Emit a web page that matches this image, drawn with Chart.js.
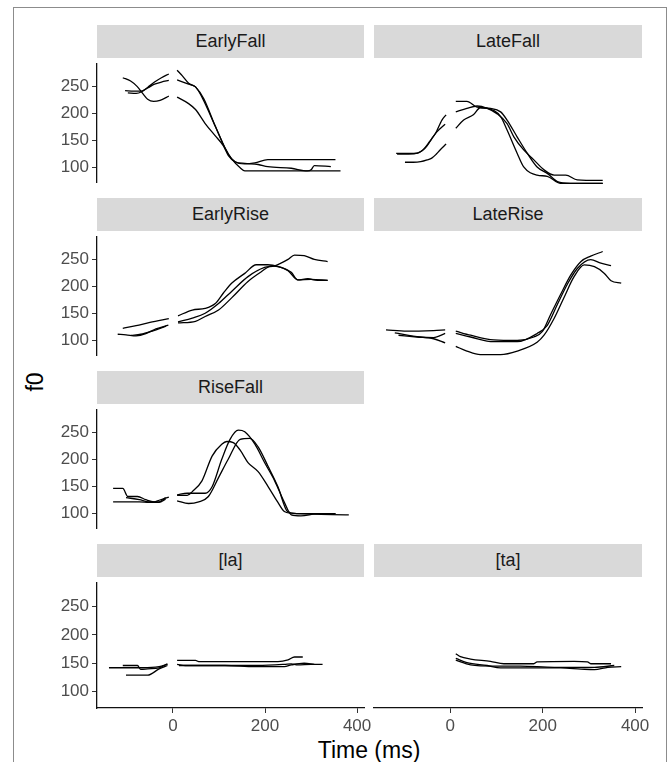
<!DOCTYPE html>
<html>
<head>
<meta charset="utf-8">
<script src="https://cdn.jsdelivr.net/npm/chart.js@4/dist/chart.umd.min.js"></script>
<style>
    body { margin: 0; background: #fff; }
    #fig { position: relative; width: 667px; height: 762px; overflow: hidden; font-family: 'Liberation Sans', Arial, sans-serif; }
    .frame { position: absolute; left: 13px; top: 7px; width: 652px; height: 800px; border: 1px solid #8c8c8c; }
    .strip { position: absolute; height: 33px; background: #d9d9d9; color: #1a1a1a; font-size: 18px; display: flex; align-items: center; justify-content: center; }
    .ytitle { position: absolute; left: 35px; top: 382px; font-size: 23px; transform: translate(-50%, -50%) rotate(-90deg); color: #000; }
    .xtitle { position: absolute; left: 369px; top: 750px; font-size: 23px; transform: translate(-50%, -50%); color: #000; white-space: nowrap; }
    canvas { position: absolute; }
</style>
</head>
<body>
<div id="fig">
    <div class="frame"></div>
    <div class="ytitle">f0</div>
    <div class="xtitle">Time (ms)</div>
</div>
<script>
// axes shared by every panel
const X_MIN = -165;
const X_MAX = 415;
const Y_MIN = 71;
const Y_MAX = 293;
const X_TICKS = [0, 200, 400];
const Y_TICKS = [100, 150, 200, 250];

// f0 contours: [time ms, f0 Hz], null = gap at word boundary
const earlyFall1 = [[-109, 266], [-92, 260], [-78, 250], [-65, 236], [-55, 226], [-42, 222], [-28, 224], [-9, 232], [0, null],
    [9, 230], [34, 218], [49, 207], [70, 181], [92, 158], [110, 139], [120, 122], [135, 110], [156, 107], [185, 105], [206, 101], [257, 98], [292, 93], [300, 95], [307, 103], [343, 101]];
const earlyFall2 = [[-104, 242], [-85, 241], [-70, 241], [-55, 247], [-40, 254], [-25, 258], [-9, 261], [0, null],
    [9, 262], [34, 254], [49, 249], [63, 230], [92, 176], [120, 124], [135, 110], [156, 106], [178, 108], [206, 114], [260, 114], [353, 114]];
const earlyFall3 = [[-98, 238], [-80, 237], [-68, 240], [-55, 248], [-40, 258], [-25, 266], [-9, 273], [0, null],
    [9, 280], [20, 270], [34, 256], [49, 249], [67, 227], [92, 176], [113, 136], [128, 115], [146, 99], [156, 93], [250, 93], [364, 93]];

const lateFall1 = [[-117, 130], [-95, 130], [-72, 130], [-60, 135], [-51, 142], [-40, 155], [-32, 164], [-18, 187], [-9, 196], [0, null],
    [12, 219], [36, 219], [58, 209], [80, 207], [109, 193], [123, 170], [145, 130], [159, 107], [188, 93], [210, 91], [239, 79], [330, 79]];
const lateFall2 = [[-115, 129], [-90, 129], [-70, 131], [-58, 137], [-45, 150], [-30, 166], [-11, 180], [0, null],
    [12, 201], [36, 207], [58, 211], [80, 207], [101, 198], [123, 181], [138, 158], [159, 136], [181, 119], [203, 102], [225, 93], [250, 93], [275, 85], [330, 84]];
const lateFall3 = [[-98, 115], [-80, 115], [-64, 116], [-50, 119], [-40, 122], [-30, 129], [-22, 136], [-9, 146], [0, null],
    [12, 173], [29, 187], [50, 196], [65, 208], [87, 207], [109, 201], [123, 187], [145, 158], [167, 130], [188, 107], [210, 96], [232, 82], [260, 79], [330, 79]];

const earlyRise1 = [[-109, 122], [-80, 127], [-50, 133], [-9, 140], [0, null],
    [11, 145], [42, 156], [70, 159], [92, 168], [110, 188], [128, 206], [156, 224], [181, 240], [206, 240], [228, 237], [250, 229], [271, 212], [300, 213], [336, 211]];
const earlyRise2 = [[-120, 111], [-102, 110], [-80, 108], [-59, 112], [-37, 121], [-10, 128], [0, null],
    [11, 134], [42, 141], [70, 150], [99, 168], [128, 191], [163, 218], [199, 235], [221, 238], [250, 250], [264, 258], [285, 257], [307, 250], [336, 246]];
const earlyRise3 = [[-91, 109], [-70, 111], [-45, 117], [-15, 126], [0, null],
    [11, 132], [49, 135], [70, 144], [99, 156], [128, 179], [163, 209], [192, 227], [214, 238], [235, 235], [257, 226], [271, 212], [293, 214], [314, 211], [336, 211]];

const lateRise1 = [[-139, 124], [-94, 122], [-36, 123], [-11, 124], [0, null],
    [12, 122], [44, 115], [94, 107], [145, 106], [181, 112], [199, 121], [217, 150], [239, 185], [261, 218], [283, 241], [304, 250], [330, 258]];
const lateRise2 = [[-120, 119], [-65, 112], [-36, 111], [-11, 118], [0, null],
    [12, 118], [44, 112], [94, 104], [145, 104], [188, 118], [210, 132], [232, 168], [254, 203], [275, 229], [304, 244], [326, 238], [348, 234]];
const lateRise3 = [[-112, 115], [-72, 112], [-36, 109], [-11, 102], [0, null],
    [12, 96], [36, 88], [65, 82], [109, 82], [145, 88], [188, 103], [203, 115], [225, 144], [246, 179], [268, 215], [290, 235], [312, 232], [333, 221], [348, 208], [370, 204]];

const riseFall1 = [[-130, 146], [-109, 146], [-98, 131], [-77, 131], [-59, 125], [-41, 121], [-30, 124], [-9, 130], [0, null],
    [9, 133], [31, 133], [42, 140], [63, 160], [85, 206], [106, 228], [117, 233], [131, 231], [146, 217], [163, 194], [185, 177], [207, 149], [228, 120], [242, 103], [257, 100], [285, 99], [353, 99]];
const riseFall2 = [[-130, 121], [-73, 121], [-52, 120], [-30, 120], [-16, 126], [0, null],
    [9, 134], [31, 137], [70, 137], [85, 149], [106, 200], [124, 237], [142, 254], [156, 251], [178, 228], [199, 194], [221, 160], [242, 120], [257, 97], [278, 95], [314, 99], [353, 99]];
const riseFall3 = [[-102, 129], [-73, 125], [-52, 121], [-30, 121], [-16, 129], [0, null],
    [9, 123], [34, 118], [56, 121], [77, 131], [99, 166], [120, 200], [146, 237], [167, 239], [185, 223], [206, 188], [228, 149], [249, 103], [271, 99], [382, 97]];

const la1 = [[-139, 142], [-66, 142], [-30, 144], [-12, 148], [0, null],
    [9, 155], [49, 155], [56, 153], [199, 153], [228, 153], [250, 156], [264, 161], [282, 161]];
const la2 = [[-109, 146], [-77, 146], [-70, 139], [-55, 140], [-30, 142], [-12, 149], [0, null],
    [9, 148], [27, 146], [185, 146], [242, 148], [257, 149], [271, 147], [300, 148], [325, 148]];
const la3 = [[-102, 129], [-55, 129], [-30, 140], [-12, 146], [0, null],
    [13, 146], [113, 146], [178, 144], [242, 144], [257, 147], [285, 150], [307, 148]];

const ta1 = [[12, 163], [22, 158], [44, 154], [87, 150], [116, 146], [181, 146], [188, 149], [268, 150], [297, 149], [304, 146], [348, 146]];
const ta2 = [[12, 155], [36, 148], [80, 143], [109, 139], [239, 139], [283, 137], [312, 136], [341, 140], [370, 141]];
const ta3 = [[12, 152], [44, 144], [94, 142], [152, 142], [225, 140], [312, 140], [355, 143]];

const PANEL_NAMES = ['EarlyFall', 'LateFall', 'EarlyRise', 'LateRise', 'RiseFall', '[la]', '[ta]'];
const PANEL_LINES = [
    [earlyFall1, earlyFall2, earlyFall3],
    [lateFall1, lateFall2, lateFall3],
    [earlyRise1, earlyRise2, earlyRise3],
    [lateRise1, lateRise2, lateRise3],
    [riseFall1, riseFall2, riseFall3],
    [la1, la2, la3],
    [ta1, ta2, ta3],
];
// [row, col] of each facet
const PANEL_CELLS = [[0, 0], [0, 1], [1, 0], [1, 1], [2, 0], [3, 0], [3, 1]];

const COLS = [{ left: 97, width: 267 }, { left: 374, width: 268 }];
const ROWS = [{ top: 58, height: 130 }, { top: 231, height: 130 }, { top: 404, height: 130 }, { top: 577, height: 131 }];
const STRIP_H = 33;
const PAD = 8;
const PAD_R = 18;
const Y_AXIS_W = 46;
const X_AXIS_H = 30;
const FONT = "'Liberation Sans', Arial, sans-serif";

function axisStyle(show, ticks, min, max) {
    return {
        type: 'linear',
        display: show,
        min,
        max,
        afterBuildTicks: (scale) => {
            scale.ticks = ticks.map((v) => ({ value: v }));
        },
        grid: { drawOnChartArea: false, drawTicks: true, tickLength: 5, color: '#333', lineWidth: 1 },
        border: { display: true, color: '#111', width: 1.3 },
        ticks: { color: '#4d4d4d', padding: 3, font: { family: FONT, size: 17 } },
    };
}

function addPanel(fig, idx) {
    const [r, c] = PANEL_CELLS[idx];
    const col = COLS[c];
    const row = ROWS[r];
    const showY = c === 0;
    const showX = r === ROWS.length - 1;

    const strip = document.createElement('div');
    strip.className = 'strip';
    strip.style.left = col.left + 'px';
    strip.style.top = (row.top - STRIP_H) + 'px';
    strip.style.width = col.width + 'px';
    strip.textContent = PANEL_NAMES[idx];
    fig.appendChild(strip);

    const yw = showY ? Y_AXIS_W : 0;
    const xh = showX ? X_AXIS_H : 0;
    const canvas = document.createElement('canvas');
    canvas.width = PAD + yw + col.width + PAD_R;
    canvas.height = PAD + row.height + xh + PAD;
    canvas.style.left = (col.left - PAD - yw) + 'px';
    canvas.style.top = (row.top - PAD) + 'px';
    fig.appendChild(canvas);

    // hidden scales still run afterFit, so only pin the size of the shown ones
    const xAxis = axisStyle(showX, X_TICKS, X_MIN, X_MAX);
    xAxis.afterFit = (scale) => { scale.height = xh; };
    const yAxis = axisStyle(showY, Y_TICKS, Y_MIN, Y_MAX);
    yAxis.afterFit = (scale) => { scale.width = yw; };

    new Chart(canvas.getContext('2d'), {
        type: 'line',
        data: {
            datasets: PANEL_LINES[idx].map((pts) => ({
                data: pts.map(([x, y]) => ({ x, y })),
                borderColor: '#000',
                borderWidth: 1.3,
                pointRadius: 0,
                spanGaps: false,
                cubicInterpolationMode: 'monotone',
            })),
        },
        options: {
            responsive: false,
            animation: false,
            events: [],
            layout: { padding: { left: PAD, right: PAD_R, top: PAD, bottom: PAD } },
            plugins: { legend: { display: false }, tooltip: { enabled: false } },
            scales: { x: xAxis, y: yAxis },
        },
    });
}

const fig = document.getElementById('fig');
PANEL_NAMES.forEach((_, i) => addPanel(fig, i));
</script>
</body>
</html>
